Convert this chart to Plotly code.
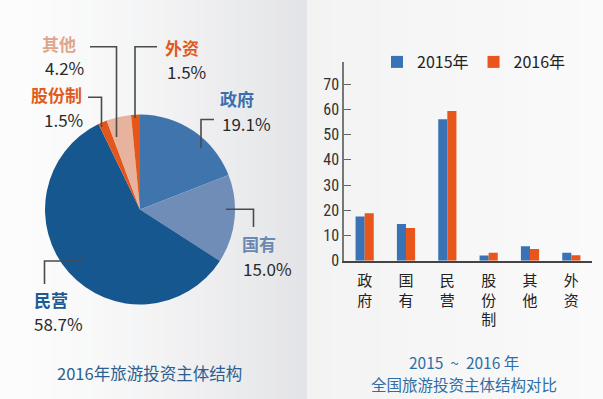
import plotly.graph_objects as go

W, H = 603, 399

# ---------------- data ----------------
pie_labels = ["政府", "国有", "民营", "股份制", "其他", "外资"]
pie_values = [19.1, 15.0, 58.7, 1.5, 4.2, 1.5]
pie_colors = ["#3f74ad", "#6f8db6", "#17578f", "#e4561a", "#e8b39c", "#e4561a"]
name_colors = ["#3c6fab", "#6a88b2", "#1c5b95", "#e05a1e", "#dea68c", "#e05a1e"]

bar_categories = ["政府", "国有", "民营", "股份制", "其他", "外资"]
bar_2015 = [17.5, 14.6, 56.1, 2.1, 5.7, 3.2]
bar_2016 = [18.8, 13.0, 59.4, 3.2, 4.6, 2.2]
series_names = ["2015年", "2016年"]
y_ticks = [0, 10, 20, 30, 40, 50, 60, 70]

left_title = "2016年旅游投资主体结构"
right_title_1 = "2015\u00a0\u00a0~\u00a0\u00a02016\u00a0年"
right_title_2 = "全国旅游投资主体结构对比"

# ---------------- layout helpers ----------------
def px(x):
    return x / W

def py(y):
    return 1 - y / H

FONT = "Noto Sans CJK SC, Noto Sans, sans-serif"
NARROW = "Liberation Sans Narrow, Arial Narrow, Roboto Condensed, Liberation Sans, sans-serif"

# label layout (name position, pct position, leader path) -- positions only
label_layout = {
    "政府": dict(name=(218, 98), pct=(220, 123), path=[(201, 148), (201, 119.5), (214, 119.5)]),
    "国有": dict(name=(240, 243), pct=(241, 268), path=[(226, 209.3), (253.5, 209.3), (253.5, 227)]),
    "民营": dict(name=(32, 299), pct=(32, 323), path=[(83, 261), (44.5, 261), (44.5, 284)]),
    "股份制": dict(name=(29, 94.5), pct=(42, 119), path=[(88, 97.3), (101.5, 97.3), (101.5, 127)]),
    "其他": dict(name=(40, 43), pct=(43, 67), path=[(90, 46.7), (116.5, 46.7), (116.5, 137)]),
    "外资": dict(name=(163, 47), pct=(165, 71), path=[(157, 46.7), (135, 46.7), (135, 118)]),
}

fig = go.Figure()

# pie
cx, cy, r = 140, 209.5, 95
fig.add_trace(go.Pie(
    labels=pie_labels, values=pie_values, sort=False, direction="clockwise", rotation=0,
    marker=dict(colors=pie_colors, line=dict(width=0)),
    textinfo="none", hoverinfo="label+percent", showlegend=False,
    domain=dict(x=[px(cx - r), px(cx + r)], y=[py(cy + r), py(cy - r)]),
))

# bars
fig.add_trace(go.Bar(x=bar_categories, y=bar_2015, name=series_names[0],
                     marker=dict(color="#3a73b5", line=dict(width=0)), xaxis="x", yaxis="y"))
fig.add_trace(go.Bar(x=bar_categories, y=bar_2016, name=series_names[1],
                     marker=dict(color="#e8561c", line=dict(width=0)), xaxis="x", yaxis="y"))

shapes = []
# background gradient on left panel
n = 30
c0 = (252, 252, 252)
c1 = (227, 228, 231)
split = 307
for i in range(n):
    t = i / (n - 1)
    col = tuple(int(round(c0[k] + (c1[k] - c0[k]) * t ** 1.5)) for k in range(3))
    shapes.append(dict(type="rect", xref="paper", yref="paper",
                       x0=px(split * i / n), x1=px(split * (i + 1) / n) + 0.002, y0=0, y1=1,
                       fillcolor="rgb(%d,%d,%d)" % col, line=dict(width=0), layer="below"))
# right panel gradient
m = 12
d0 = (243, 243, 243)
d1 = (250, 250, 250)
for i in range(m):
    t = i / (m - 1)
    col = tuple(int(round(d0[k] + (d1[k] - d0[k]) * t)) for k in range(3))
    shapes.append(dict(type="rect", xref="paper", yref="paper",
                       x0=px(split + (W - split) * i / m), x1=min(1, px(split + (W - split) * (i + 1) / m) + 0.002),
                       y0=0, y1=1, fillcolor="rgb(%d,%d,%d)" % col, line=dict(width=0), layer="below"))

annotations = []
for lab, val, ncol in zip(pie_labels, pie_values, name_colors):
    L = label_layout[lab]
    pts = L["path"]
    path = "M " + " L ".join("%f,%f" % (px(x), py(y)) for x, y in pts)
    shapes.append(dict(type="path", xref="paper", yref="paper", path=path,
                       line=dict(color="#4a4a4a", width=1.6)))
    annotations.append(dict(x=px(L["name"][0]), y=py(L["name"][1]), xref="paper", yref="paper",
                            text="<b>%s</b>" % lab, showarrow=False, xanchor="left", yanchor="middle",
                            font=dict(family=FONT, size=17, color=ncol)))
    annotations.append(dict(x=px(L["pct"][0]), y=py(L["pct"][1]), xref="paper", yref="paper",
                            text="%.1f%%" % val, showarrow=False, xanchor="left", yanchor="middle",
                            font=dict(family=FONT, size=17, color="#2a2a2a")))

annotations.append(dict(x=px(149), y=py(373), xref="paper", yref="paper", text=left_title,
                        showarrow=False, xanchor="center", yanchor="middle",
                        font=dict(family=FONT, size=16.5, color="#2b5f90")))
annotations.append(dict(x=px(464), y=py(361.5), xref="paper", yref="paper", text=right_title_1,
                        showarrow=False, xanchor="center", yanchor="middle",
                        font=dict(family=FONT, size=15.5, color="#2e6ea6")))
annotations.append(dict(x=px(463.5), y=py(384), xref="paper", yref="paper", text=right_title_2,
                        showarrow=False, xanchor="center", yanchor="middle",
                        font=dict(family=FONT, size=15.5, color="#2e6ea6")))

fig.update_layout(
    width=W, height=H, autosize=False,
    margin=dict(l=0, r=0, t=0, b=0, autoexpand=False),
    paper_bgcolor="#f6f6f6", plot_bgcolor="rgba(0,0,0,0)",
    font=dict(family=FONT, color="#222"),
    barmode="group", bargap=0.56, bargroupgap=0,
    xaxis=dict(domain=[px(344), px(592)], type="category",
               tickvals=bar_categories, ticktext=["<br>".join(list(c)) for c in bar_categories],
               tickfont=dict(family=FONT, size=15, color="#222"),
               showline=True, linecolor="#444", linewidth=1.5, ticks="", showgrid=False,
               zeroline=False, fixedrange=True, ticklabelstandoff=6),
    yaxis=dict(domain=[py(260.7), py(62)], range=[0, 78.8], tickvals=y_ticks,
               tickfont=dict(family=NARROW, size=16, color="#333"),
               showline=True, linecolor="#777", linewidth=1.5, ticks="inside", ticklen=7,
               tickcolor="#666", tickwidth=1.2, showgrid=False, zeroline=False, fixedrange=True),
    legend=dict(orientation="h", x=px(377), y=py(62), xanchor="left", yanchor="middle",
                font=dict(family=FONT, size=16, color="#222"), bgcolor="rgba(0,0,0,0)",
                traceorder="normal"),
    shapes=shapes, annotations=annotations,
)

fig.write_html("out.html", config={"displayModeBar": False},
               post_script="document.body.style.margin='0';document.body.style.overflow='hidden';")
